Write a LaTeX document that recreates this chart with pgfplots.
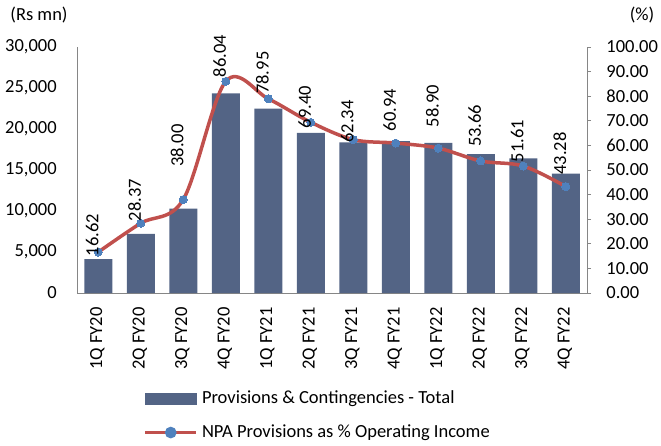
\documentclass[border=0pt]{standalone}
\usepackage{fontspec}
\setmainfont{Carlito}
\usepackage{pgfplots}
\usepackage{pgfplotstable}
\pgfplotsset{compat=1.18}

\definecolor{barcol}{RGB}{83,100,133}
\definecolor{linecol}{RGB}{192,80,77}
\definecolor{markcol}{RGB}{79,129,189}
\definecolor{axcol}{RGB}{134,134,134}

\newcommand{\chartfont}{\fontsize{18.5}{22}\selectfont}

% x, provisions (Rs mn), NPA provisions % op. income, label offset (pt)
\pgfplotstableread{
x bar pct off
0 4140 16.62 -4
1 7210 28.37 2
2 10290 38.00 33
3 24330 86.04 4
4 22500 78.95 5
5 19540 69.40 -6
6 18370 62.34 -3
7 18530 60.94 12
8 18320 58.90 21
9 16950 53.66 14
10 16420 51.61 4
11 14550 43.28 12
}\data

\begin{document}
\chartfont
\begin{tikzpicture}
\useasboundingbox (0,0) rectangle (661pt,445pt);

% ---------- bars, left axis ----------
\begin{axis}[
    at={(77pt,152pt)}, anchor=south west,
    scale only axis, width=510pt, height=246pt,
    xmin=-0.5, xmax=11.5, ymin=0, ymax=30000,
    enlargelimits=false,
    axis x line*=bottom, axis y line*=left,
    axis line style={axcol, line width=0.8pt},
    ytick={0,5000,...,30000},
    scaled y ticks=false,
    xtick={0,...,11},
    xticklabels={1Q FY20,2Q FY20,3Q FY20,4Q FY20,1Q FY21,2Q FY21,3Q FY21,4Q FY21,1Q FY22,2Q FY22,3Q FY22,4Q FY22},
    tick style={draw=none},
    tick label style={font=\chartfont},
    /pgf/number format/assume math mode=true,
    /pgf/number format/1000 sep={,},
    yticklabel style={xshift=-14pt},
    xticklabel style={yshift=-8pt, xshift=-1pt, rotate=90, anchor=east},
]
\addplot[ybar, bar width=28pt, fill=barcol, draw=none] table[x=x, y=bar]{\data};
\end{axis}

% ---------- line, right axis ----------
\begin{axis}[
    at={(77pt,152pt)}, anchor=south west,
    scale only axis, width=510pt, height=246pt,
    xmin=-0.5, xmax=11.5, ymin=0, ymax=100,
    enlargelimits=false,
    axis x line=none, axis y line*=right,
    axis line style={axcol, line width=0.8pt},
    ytick={0,10,...,100},
    tick align=outside,
    major tick length=4pt,
    tick style={axcol, line width=0.8pt},
    tick label style={font=\chartfont},
    /pgf/number format/assume math mode=true,
    yticklabel={\pgfmathprintnumber[fixed,fixed zerofill,precision=2]{\tick}},
    yticklabel style={xshift=9pt},
    clip=false,
    legend style={
        at={(axis description cs:0.13,-0.39)}, anchor=north west,
        draw=none, fill=none, inner sep=0pt,
        font=\chartfont, row sep=14pt, column sep=2pt,
        cells={anchor=west},
    },
]
\addlegendimage{legend image code/.code={\fill[barcol] (0pt,-5.7pt) rectangle (51pt,5.7pt);}}
\addlegendentry{Provisions \& Contingencies - Total}

\addplot[linecol, line width=3.5pt, smooth, tension=0.55,
    mark=*, mark size=4pt, mark options={fill=markcol, draw=markcol, line width=0pt},
    point meta=y,
    visualization depends on={\thisrow{off} \as \labeloff},
    nodes near coords={\pgfmathprintnumber[fixed,fixed zerofill,precision=2]{\pgfplotspointmeta}},
    every node near coord/.append style={font=\chartfont, text=black,
        yshift=\labeloff pt, xshift=-6pt, rotate=90, anchor=west, inner sep=0pt},
    legend image code/.code={
        \draw[linecol, line width=3.5pt] (0pt,0pt) -- (51pt,0pt);
        \fill[markcol] (25.5pt,0pt) circle (4pt);},
] table[x=x, y=pct]{\data};
\addlegendentry{NPA Provisions as \% Operating Income}
\end{axis}

\node[font=\chartfont] at (39pt,430pt) {(Rs mn)};
\node[font=\chartfont] at (642pt,430pt) {(\%)};
\end{tikzpicture}
\end{document}
